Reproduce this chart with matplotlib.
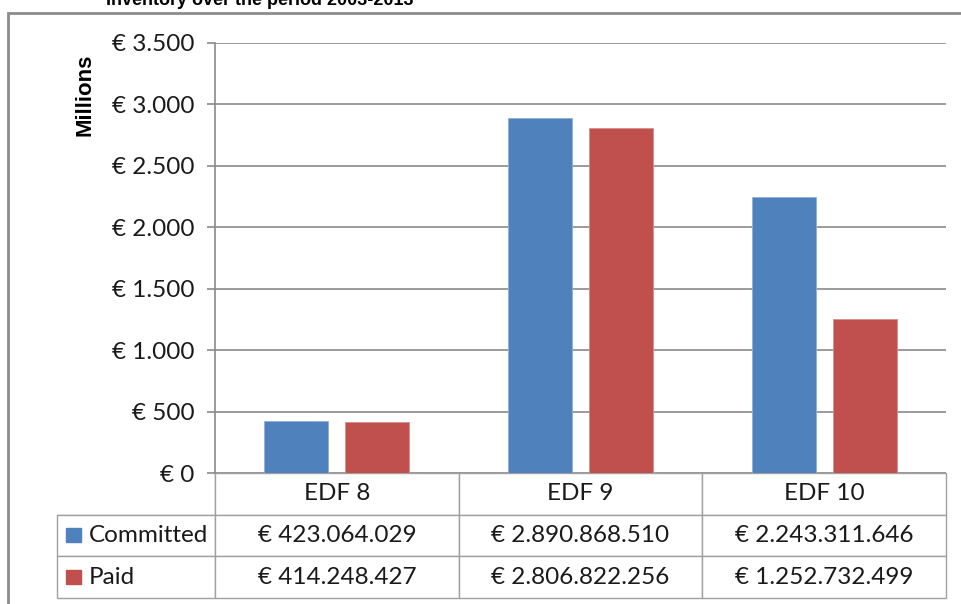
import numpy as np
import matplotlib
matplotlib.use('Agg')
import matplotlib.pyplot as plt
from matplotlib.patches import Rectangle

# EDF commitments vs payments (euro)
categories = ['EDF 8', 'EDF 9', 'EDF 10']
series = ['Committed', 'Paid']
committed = [423064029, 2890868510, 2243311646]
paid = [414248427, 2806822256, 1252732499]
yticks = [0, 500, 1000, 1500, 2000, 2500, 3000, 3500]

blue = '#4F81BD'
red = '#C0504D'
grid_col = '#8a8a8a'

def euro(v):
    return "€ " + f"{v:,}".replace(",", ".")

plt.rcParams['font.family'] = ['Lato', 'DejaVu Sans']

W, H = 962, 604
fig = plt.figure(figsize=(W/100, H/100), dpi=100)
ax = fig.add_axes([215/W, 1-473/H, 731/W, 430/H])

x = np.arange(len(categories))
bw = 0.262
ax.bar(x - 0.166, np.array(committed)/1e6, bw, color=blue, edgecolor='#8fb0d8', linewidth=0.6, zorder=3)
ax.bar(x + 0.166, np.array(paid)/1e6, bw, color=red, edgecolor='#d98c8a', linewidth=0.6, zorder=3)

ax.set_xlim(-0.5, 2.5)
ax.set_ylim(0, 3500)
ax.set_yticks(yticks)
ax.set_yticklabels([euro(v) for v in yticks], fontsize=17.5, color='#1a1a1a')
ax.tick_params(axis='y', length=6, width=1.2, color=grid_col, pad=9)
ax.set_xticks([])
ax.yaxis.grid(True, color=grid_col, linewidth=1.2, zorder=0)
for s in ['top', 'right', 'bottom']:
    ax.spines[s].set_visible(False)
ax.spines['left'].set_color(grid_col)
ax.spines['left'].set_linewidth(1.2)

# data table under the plot
rows = [[''] + categories,
        ['Committed'] + [euro(v) for v in committed],
        ['Paid'] + [euro(v) for v in paid]]
tb = ax.table(cellText=rows, cellLoc='center',
              colWidths=[158, 243.7, 243.7, 243.7],
              bbox=[(57-215)/731, (473-598)/430, (946-57)/731, 125/430])
tb.auto_set_font_size(False)
for (r, c), cell in tb.get_celld().items():
    cell.set_edgecolor('#a0a0a0')
    cell.set_linewidth(1.0)
    cell.get_text().set_fontsize(17.5)
    cell.get_text().set_color('#1a1a1a')
    if c == 0:
        cell.get_text().set_ha('left')
        cell._loc = 'left'
        cell.PAD = 0.2
    if r == 0 and c == 0:
        cell.visible_edges = 'BR'

# legend keys in the table
for i, col in enumerate([blue, red]):
    y0 = 542 + i*41.5
    fig.add_artist(Rectangle((66/W, 1-y0/H), 15/W, 14/H, color=col,
                             transform=fig.transFigure))

# outer chart frame
fig.add_artist(Rectangle((8/W, -0.5), 2, 1.5-13/H, fill=False, edgecolor='#8c8c8c',
                         linewidth=2, transform=fig.transFigure))

fig.text(85/W, 1-95/H, 'Millions', rotation=90, ha='center', va='center',
         fontsize=16, fontweight='bold', family=['Liberation Sans', 'DejaVu Sans'])
fig.text(260/W, 1-5/H, 'Inventory over the period 2003-2013', ha='center', va='baseline',
         fontsize=13, fontweight='bold', family=['Liberation Sans', 'DejaVu Sans'])

fig.savefig('out.png', dpi=100)
